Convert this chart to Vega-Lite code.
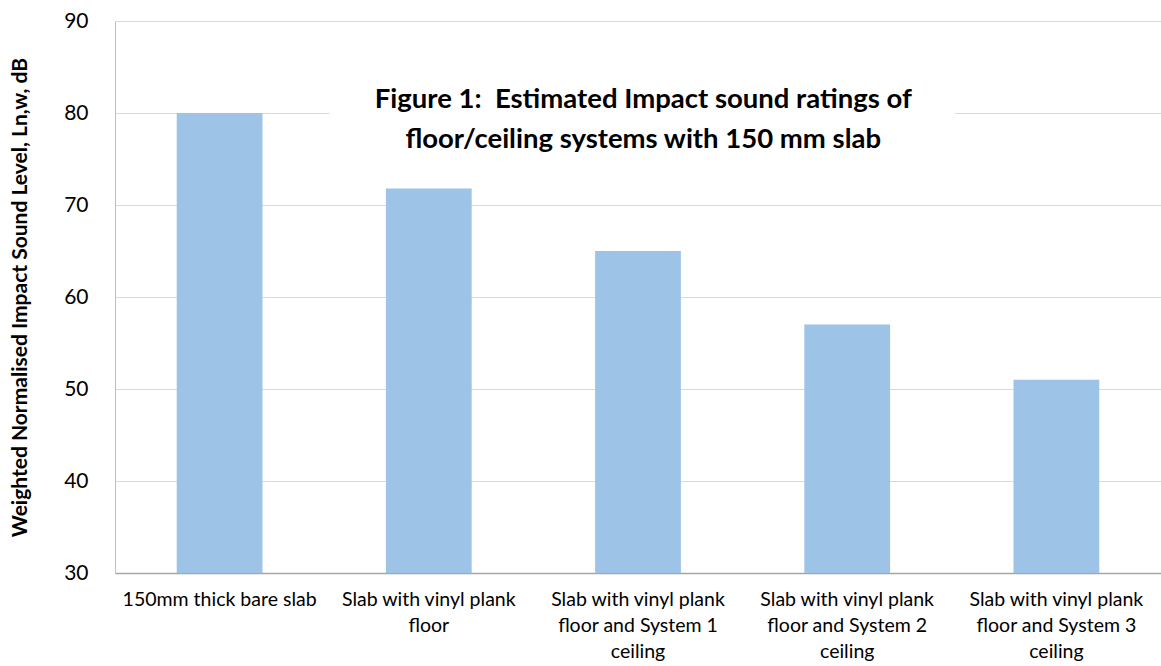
{
  "$schema": "https://vega.github.io/schema/vega-lite/v6.json",
  "width": 1046,
  "height": 552,
  "autosize": {"type": "none"},
  "padding": {"left": 115, "top": 21, "right": 0, "bottom": 93},
  "background": "white",
  "config": {"view": {"stroke": null}, "font": "Lato"},
  "data": {
    "values": [
      {"system": "150mm thick bare slab", "ln": 80},
      {"system": "Slab with vinyl plank floor", "ln": 71.8},
      {"system": "Slab with vinyl plank floor and System 1 ceiling", "ln": 65},
      {"system": "Slab with vinyl plank floor and System 2 ceiling", "ln": 57},
      {"system": "Slab with vinyl plank floor and System 3 ceiling", "ln": 51}
    ]
  },
  "layer": [
    {
      "mark": {"type": "bar", "color": "#9DC3E6", "clip": true},
      "encoding": {
        "x": {
          "field": "system",
          "type": "nominal",
          "sort": null,
          "scale": {"paddingInner": 0.59, "paddingOuter": 0.295},
          "axis": {
            "title": null,
            "labelAngle": 0,
            "labelFontSize": 19.5,
            "labelColor": "#000000",
            "labelLineHeight": 26,
            "labelPadding": 17,
            "labelLimit": 0,
            "ticks": false,
            "tickSize": 0,
            "domainColor": "#A6A6A6",
            "domainWidth": 1.5,
            "labelExpr": "datum.label == '150mm thick bare slab' ? datum.label : datum.label == 'Slab with vinyl plank floor' ? ['Slab with vinyl plank', 'floor'] : ['Slab with vinyl plank', 'floor and ' + slice(datum.label, 32, 40), 'ceiling']"
          }
        },
        "y": {
          "field": "ln",
          "type": "quantitative",
          "scale": {"domain": [30, 90], "nice": false, "zero": false},
          "axis": {
            "values": [30, 40, 50, 60, 70, 80, 90],
            "grid": true,
            "gridColor": "#D9D9D9",
            "gridWidth": 1.2,
            "domainColor": "#BFBFBF",
            "ticks": false,
            "tickSize": 0,
            "labelFontSize": 21,
            "labelColor": "#000000",
            "labelPadding": 27,
            "title": "Weighted Normalised Impact Sound Level, Ln,w, dB",
            "titleFontSize": 21,
            "titleFontWeight": "bold",
            "titleColor": "#000000",
            "titleX": -95,
            "titleBaseline": "middle"
          }
        }
      }
    },
    {
      "data": {"values": [{}]},
      "mark": {"type": "rect", "color": "white"},
      "encoding": {
        "x": {"datum": 0.205, "type": "quantitative", "scale": {"domain": [0, 1]}, "axis": null},
        "x2": {"datum": 0.803},
        "y": {"datum": 76, "type": "quantitative"},
        "y2": {"datum": 84}
      }
    },
    {
      "data": {"values": [{}]},
      "mark": {"type": "text", "font": "Lato", "fontWeight": "bold", "fontSize": 27.5, "lineHeight": 40, "align": "center", "baseline": "middle", "color": "#000000"},
      "encoding": {
        "x": {"datum": 0.505, "type": "quantitative", "scale": {"domain": [0, 1]}, "axis": null},
        "y": {"datum": 81.4, "type": "quantitative"},
        "text": {"value": ["Figure 1:\u00a0 Estimated Impact sound ratings of", "floor/ceiling systems with 150 mm slab"]}
      }
    }
  ],
  "resolve": {"scale": {"x": "independent"}}
}
